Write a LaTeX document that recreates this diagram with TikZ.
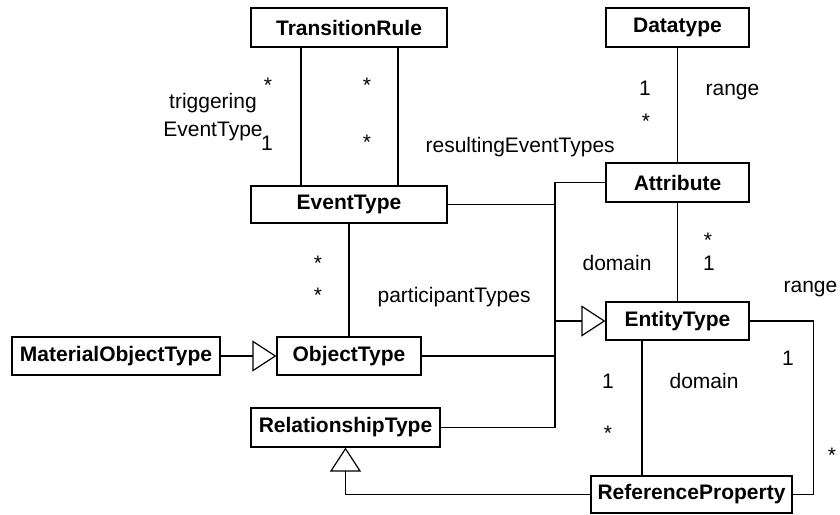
\documentclass[tikz,border=0pt]{standalone}
\usepackage{fontspec}
\setmainfont{Liberation Sans}
\usetikzlibrary{arrows.meta}
\begin{document}
\begin{tikzpicture}[x=1pt,y=-1pt, line width=1.2pt,
  every node/.style={font=\fontsize{21}{28}\selectfont},
  cls/.style={draw, rectangle, inner sep=0pt, font=\fontsize{21}{28}\selectfont\bfseries},
  lbl/.style={anchor=base, inner sep=0pt},
  lblw/.style={anchor=base west, inner sep=0pt},
  gen/.style={-{Triangle[open,length=24pt,width=31pt]}}]
\useasboundingbox (0,0) rectangle (840,514);
% classes
\node[cls, minimum width=196pt, minimum height=39pt] (TR) at (349,27.5) {TransitionRule};
\node[cls, minimum width=196pt, minimum height=37pt] (ET) at (349,204.5) {EventType};
\node[cls, minimum width=143pt, minimum height=39pt] (DT) at (677.5,27.5) {Datatype};
\node[cls, minimum width=143pt, minimum height=39pt] (AT) at (677.5,182.5) {Attribute};
\node[cls, minimum width=143pt, minimum height=38pt] (EN) at (677.5,321) {EntityType};
\node[cls, minimum width=201pt, minimum height=37pt] (RP) at (691.5,494.5) {ReferenceProperty};
\node[cls, minimum width=208pt, minimum height=38pt] (MO) at (116,356) {MaterialObjectType};
\node[cls, minimum width=144pt, minimum height=38pt] (OT) at (349,356) {ObjectType};
\node[cls, minimum width=189pt, minimum height=39pt] (RT) at (345.5,427.5) {RelationshipType};
% associations
\draw ([xshift=-48pt]TR.south) -- ([xshift=-48pt]ET.north);
\draw ([xshift=49pt]TR.south) -- ([xshift=49pt]ET.north);
\draw (DT) -- (AT);
\draw (AT) -- (EN);
\draw (ET) -- (OT);
\draw ([xshift=-35.5pt]EN.south) -- ([xshift=-35.5pt]EN.south |- RP.north);
\draw (EN.east) -| ([xshift=21pt]RP.east) -- (RP.east);
% generalizations
\coordinate (j) at (555,321);
\draw (AT.west) -| (j);
\draw (ET.east) -| (j);
\draw (OT.east) -| (j);
\draw (RT.east) -| (j);
\draw[gen] (j) -- (EN.west);
\draw[gen] (MO) -- (OT);
\draw[gen] (RP.west) -| (RT.south);
% labels
\node[lbl] (s1) at (268,92) {*};
\node[align=center, inner sep=0pt] (trig) at (213,117) {triggering\\EventType};
\node[lbl] (o1) at (267,150) {1};
\node[lbl] (s2) at (367,92) {*};
\node[lbl] (s3) at (367,149) {*};
\node[lblw] (res) at (425,152) {resultingEventTypes};
\node[lbl] (o2) at (645,95) {1};
\node[lbl] (s4) at (646,128) {*};
\node[lblw] (rng1) at (705,95) {range};
\node[lbl] (s5) at (708,247) {*};
\node[lbl] (o3) at (709,270) {1};
\node[lblw] (dom1) at (582,270) {domain};
\node[lblw] (rng2) at (783,292) {range};
\node[lbl] (s6) at (318,270) {*};
\node[lbl] (s7) at (318,302) {*};
\node[lblw] (part) at (377,302) {participantTypes};
\node[lbl] (o4) at (608,388) {1};
\node[lblw] (dom2) at (669,388) {domain};
\node[lbl] (o5) at (788,365) {1};
\node[lbl] (s8) at (608,440) {*};
\node[lbl] (s9) at (832,462) {*};
\end{tikzpicture}
\end{document}
